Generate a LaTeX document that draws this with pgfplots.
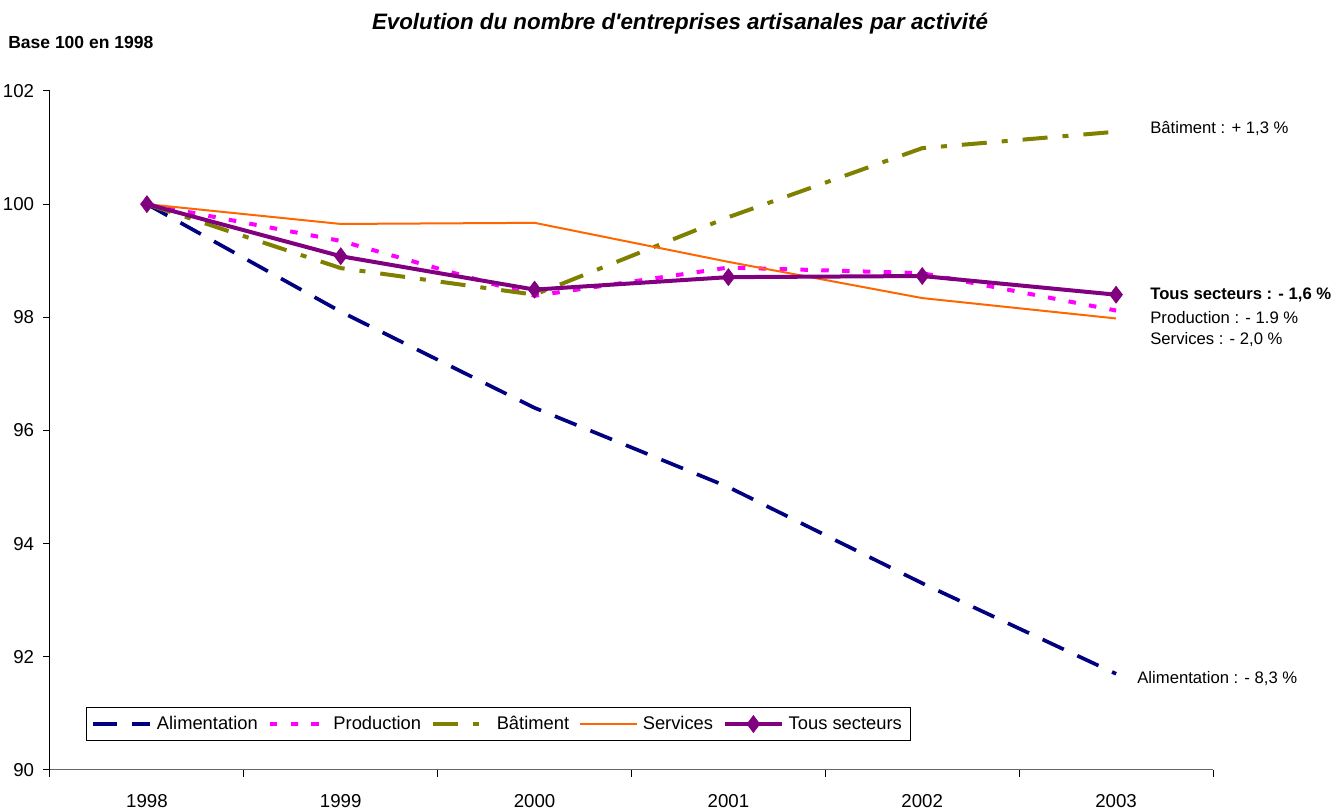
\documentclass[border=0pt]{standalone}
\usepackage{fontspec}
\setmainfont{Liberation Sans}[Ligatures=TeXOff]
\usepackage{pgfplots}
\pgfplotsset{compat=1.18}
\definecolor{cAli}{RGB}{0,0,128}
\definecolor{cProd}{RGB}{255,0,255}
\definecolor{cBat}{RGB}{128,128,0}
\definecolor{cServ}{RGB}{255,102,0}
\definecolor{cTous}{RGB}{128,0,128}
\begin{document}
\begin{tikzpicture}
\useasboundingbox (0,0) rectangle (804pt,487.2pt);
\node[font=\bfseries\itshape\fontsize{13.4}{15}\selectfont] at (408pt,473pt) {Evolution du nombre d'entreprises artisanales par activité};
\node[font=\bfseries\fontsize{10.5}{12}\selectfont, anchor=west, inner sep=0pt] at (4.8pt,462pt) {Base 100 en 1998};
\begin{axis}[
  at={(30pt,25.2pt)}, anchor=south west,
  scale only axis, width=697.8pt, height=407.4pt,
  xmin=-0.5, xmax=5.5, ymin=90, ymax=102,
  axis x line=bottom, axis y line=left,
  axis line style={-, line width=0.6pt},
  x axis line style={draw=black!60},
  xtick={-0.5,0.5,1.5,2.5,3.5,4.5,5.5},
  xticklabels={},
  extra x ticks={0,1,2,3,4,5},
  extra x tick labels={1998,1999,2000,2001,2002,2003},
  extra x tick style={major tick length=0pt, tick label style={yshift=-11pt}},
  ytick={90,92,...,102},
  tick align=outside,
  major tick length=4pt,
  tick style={line width=0.6pt, black},
  tick label style={font=\fontsize{11.2}{12}\selectfont},
  /pgf/number format/assume math mode=true,
  yticklabel style={xshift=-2pt},
  legend columns=5,
  legend style={at={(0.031,0.043)}, anchor=south west, draw=black, line width=0.6pt,
    font=\fontsize{11}{12}\selectfont, inner sep=3pt,
    /tikz/every odd column/.append style={column sep=1pt},
    /tikz/every even column/.append style={column sep=4pt}},
  legend image code/.code={\draw[mark repeat=2,mark phase=2,#1] plot coordinates {(0pt,0pt) (17pt,0pt) (34pt,0pt)};},
  clip=false,
]
\addplot[cAli, line width=2.2pt, dash pattern=on 14pt off 9pt] coordinates {(0,100) (1,98.1) (2,96.4) (3,95.0) (4,93.3) (5,91.7)};
\addlegendentry{Alimentation}
\addplot[cProd, line width=2.4pt, dash pattern=on 4.5pt off 8pt] coordinates {(0,100) (1,99.35) (2,98.38) (3,98.88) (4,98.78) (5,98.12)};
\addlegendentry{Production}
\addplot[cBat, line width=2.4pt, dash pattern=on 15pt off 9pt on 3.6pt off 9pt] coordinates {(0,100) (1,98.87) (2,98.40) (3,99.77) (4,100.99) (5,101.28)};
\addlegendentry{Bâtiment}
\addplot[cServ, line width=1.2pt] coordinates {(0,100) (1,99.65) (2,99.67) (3,98.98) (4,98.34) (5,97.98)};
\addlegendentry{Services}
\addplot[cTous, line width=2.4pt, mark=diamond*, mark size=5pt, mark options={solid, fill=cTous, line width=0.5pt}] coordinates {(0,100) (1,99.08) (2,98.49) (3,98.71) (4,98.73) (5,98.40)};
\addlegendentry{Tous secteurs}
\node[anchor=west, font=\fontsize{10}{12}\selectfont, inner sep=0pt] at (axis cs:5.175,101.33) {Bâtiment : + 1,3 \%};
\node[anchor=west, font=\bfseries\fontsize{10}{12}\selectfont, inner sep=0pt] at (axis cs:5.175,98.39) {Tous secteurs : - 1,6 \%};
\node[anchor=west, font=\fontsize{10}{12}\selectfont, inner sep=0pt] at (axis cs:5.175,98.0) {Production : - 1.9 \%};
\node[anchor=west, font=\fontsize{10}{12}\selectfont, inner sep=0pt] at (axis cs:5.175,97.61) {Services : - 2,0 \%};
\node[anchor=west, font=\fontsize{10}{12}\selectfont, inner sep=0pt] at (axis cs:5.108,91.61) {Alimentation : - 8,3 \%};
\end{axis}
\end{tikzpicture}
\end{document}
